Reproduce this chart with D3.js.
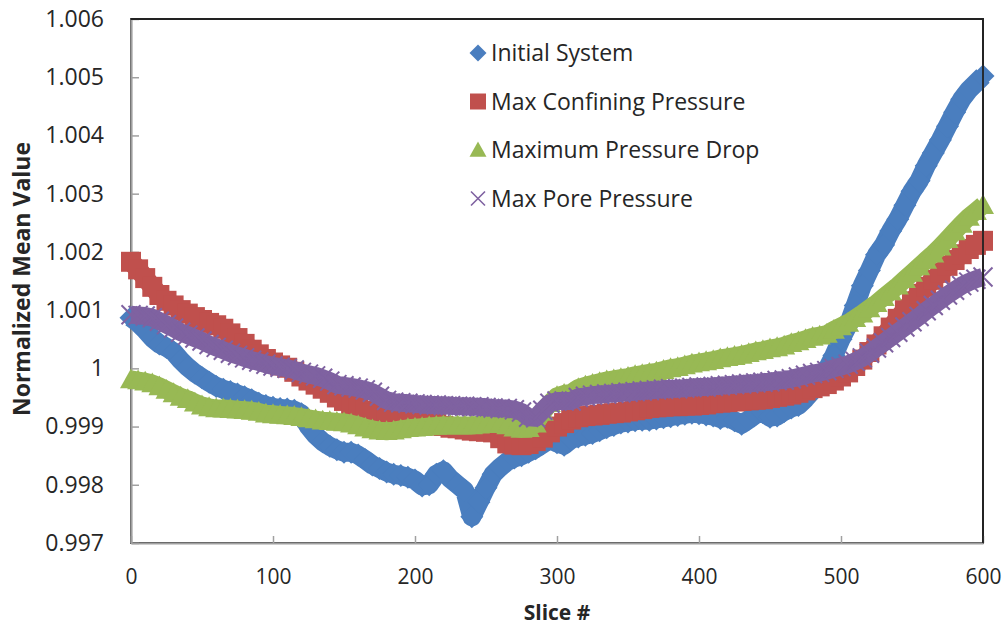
<!DOCTYPE html>
<html>
<head>
  <meta charset="utf-8">
  <title>Normalized Mean Value by Slice</title>
  <script src="https://d3js.org/d3.v7.min.js"></script>
  <style>
    body { margin: 0; background: #fff; }
    svg { font-family: "Open Sans", "Noto Sans", sans-serif; }
  </style>
</head>
<body>
  <div id="chart"></div>

  <script>
    // slice index of each reading (every 5th slice)
    var slices = d3.range(0, 601, 5);

    var initialSystem = [
      1.00087, 1.00078, 1.00066, 1.00052, 1.00042, 1.00036, 1.00028, 1.00014, 1.00002, 0.99992,
      0.99984, 0.99976, 0.99969, 0.99964, 0.99960, 0.99956, 0.99951, 0.99946, 0.99940, 0.99936,
      0.99933, 0.99931, 0.99930, 0.99928, 0.99922, 0.99900, 0.99885, 0.99874, 0.99866, 0.99860,
      0.99856, 0.99856, 0.99851, 0.99843, 0.99834, 0.99828, 0.99822, 0.99818, 0.99816, 0.99813,
      0.99808, 0.99798, 0.99800, 0.99818, 0.99824, 0.99810, 0.99800, 0.99790, 0.99745, 0.99770,
      0.99795, 0.99818, 0.99830, 0.99840, 0.99846, 0.99850, 0.99856, 0.99862, 0.99870, 0.99878,
      0.99872, 0.99868, 0.99878, 0.99882, 0.99885, 0.99888, 0.99893, 0.99898, 0.99902, 0.99906,
      0.99908, 0.99910, 0.99911, 0.99911, 0.99913, 0.99915, 0.99917, 0.99919, 0.99921, 0.99923,
      0.99922, 0.99920, 0.99918, 0.99914, 0.99916, 0.99910, 0.99904, 0.99912, 0.99921, 0.99924,
      0.99916, 0.99918, 0.99926, 0.99932, 0.99936, 0.99948, 0.99962, 0.99978, 0.99998, 1.00022,
      1.00050, 1.00074, 1.00108, 1.00142, 1.00168, 1.00195, 1.00212, 1.00236, 1.00256, 1.00280,
      1.00304, 1.00322, 1.00348, 1.00370, 1.00392, 1.00416, 1.00440, 1.00462, 1.00478, 1.00490,
      1.00502
    ];

    var maxConfining = [
      1.00183, 1.00170, 1.00155, 1.00140, 1.00126, 1.00116, 1.00108, 1.00100, 1.00094, 1.00088,
      1.00083, 1.00078, 1.00074, 1.00068, 1.00060, 1.00052, 1.00042, 1.00032, 1.00024, 1.00016,
      1.00010, 1.00005, 1.00001, 0.99994, 0.99986, 0.99979, 0.99972, 0.99965, 0.99958, 0.99950,
      0.99944, 0.99938, 0.99932, 0.99927, 0.99923, 0.99920, 0.99918, 0.99916, 0.99915, 0.99914,
      0.99912, 0.99911, 0.99909, 0.99905, 0.99901, 0.99898, 0.99897, 0.99895, 0.99893, 0.99892,
      0.99891, 0.99890, 0.99880, 0.99871, 0.99869, 0.99868, 0.99870, 0.99875, 0.99881, 0.99890,
      0.99900, 0.99906, 0.99912, 0.99916, 0.99918, 0.99919, 0.99920, 0.99922, 0.99923, 0.99924,
      0.99926, 0.99928, 0.99930, 0.99932, 0.99933, 0.99934, 0.99935, 0.99935, 0.99936, 0.99936,
      0.99937, 0.99938, 0.99940, 0.99941, 0.99942, 0.99943, 0.99944, 0.99945, 0.99946, 0.99947,
      0.99949, 0.99951, 0.99953, 0.99955, 0.99958, 0.99962, 0.99966, 0.99969, 0.99973, 0.99979,
      0.99986, 0.99993, 1.00004, 1.00015, 1.00028, 1.00041, 1.00055, 1.00070, 1.00085, 1.00100,
      1.00115, 1.00128, 1.00140, 1.00152, 1.00164, 1.00176, 1.00186, 1.00196, 1.00205, 1.00212,
      1.00219
    ];

    var maxPressureDrop = [
      0.99981, 0.99979, 0.99977, 0.99974, 0.99969, 0.99963, 0.99957, 0.99951, 0.99947, 0.99941,
      0.99936, 0.99933, 0.99931, 0.99931, 0.99930, 0.99929, 0.99928, 0.99927, 0.99925, 0.99922,
      0.99921, 0.99920, 0.99919, 0.99918, 0.99916, 0.99914, 0.99912, 0.99910, 0.99909, 0.99908,
      0.99907, 0.99905, 0.99902, 0.99898, 0.99895, 0.99893, 0.99892, 0.99893, 0.99895, 0.99897,
      0.99898, 0.99899, 0.99900, 0.99901, 0.99902, 0.99902, 0.99902, 0.99902, 0.99902, 0.99903,
      0.99905, 0.99905, 0.99904, 0.99902, 0.99898, 0.99896, 0.99897, 0.99905, 0.99925, 0.99940,
      0.99952, 0.99956, 0.99958, 0.99966, 0.99970, 0.99973, 0.99976, 0.99979, 0.99981, 0.99983,
      0.99985, 0.99988, 0.99990, 0.99992, 0.99994, 0.99997, 1.00000, 1.00002, 1.00005, 1.00008,
      1.00010, 1.00012, 1.00014, 1.00017, 1.00019, 1.00021, 1.00023, 1.00026, 1.00029, 1.00031,
      1.00034, 1.00036, 1.00039, 1.00043, 1.00046, 1.00050, 1.00054, 1.00056, 1.00059, 1.00066,
      1.00072, 1.00078, 1.00086, 1.00094, 1.00103, 1.00112, 1.00122, 1.00132, 1.00142, 1.00153,
      1.00164, 1.00175, 1.00186, 1.00197, 1.00209, 1.00222, 1.00235, 1.00248, 1.00260, 1.00270,
      1.00280
    ];

    var maxPore = [
      1.00092, 1.00091, 1.00090, 1.00087, 1.00081, 1.00075, 1.00069, 1.00062, 1.00057, 1.00052,
      1.00047, 1.00041, 1.00036, 1.00031, 1.00026, 1.00022, 1.00018, 1.00014, 1.00011, 1.00007,
      1.00004, 1.00002, 1.00000, 0.99997, 0.99993, 0.99990, 0.99987, 0.99983, 0.99978, 0.99972,
      0.99970, 0.99968, 0.99966, 0.99963, 0.99959, 0.99952, 0.99945, 0.99942, 0.99941, 0.99940,
      0.99939, 0.99938, 0.99937, 0.99937, 0.99936, 0.99936, 0.99935, 0.99935, 0.99934, 0.99934,
      0.99933, 0.99932, 0.99931, 0.99931, 0.99929, 0.99925, 0.99916, 0.99915, 0.99928, 0.99940,
      0.99944, 0.99944, 0.99944, 0.99950, 0.99952, 0.99954, 0.99955, 0.99956, 0.99957, 0.99958,
      0.99959, 0.99960, 0.99961, 0.99962, 0.99963, 0.99964, 0.99965, 0.99965, 0.99966, 0.99967,
      0.99968, 0.99968, 0.99969, 0.99970, 0.99971, 0.99972, 0.99973, 0.99974, 0.99975, 0.99976,
      0.99977, 0.99979, 0.99980, 0.99982, 0.99985, 0.99988, 0.99991, 0.99993, 0.99996, 1.00000,
      1.00003, 1.00007, 1.00012, 1.00018, 1.00026, 1.00035, 1.00044, 1.00053, 1.00062, 1.00071,
      1.00080, 1.00089, 1.00099, 1.00108, 1.00117, 1.00126, 1.00134, 1.00142, 1.00148, 1.00153,
      1.00157
    ];

    var seriesNames = ['Initial System', 'Max Confining Pressure', 'Maximum Pressure Drop', 'Max Pore Pressure'];
    var seriesColors = ['#4a7ebf', '#c0504d', '#98b954', '#7f62a1'];
    var seriesShapes = ['diamond', 'square', 'triangle', 'cross'];

    var xTicks = [0, 100, 200, 300, 400, 500, 600];
    var yTicks = [0.997, 0.998, 0.999, 1, 1.001, 1.002, 1.003, 1.004, 1.005, 1.006];
    var yTickLabels = ['0.997', '0.998', '0.999', '1', '1.001', '1.002', '1.003', '1.004', '1.005', '1.006'];

    var allValues = [initialSystem, maxConfining, maxPressureDrop, maxPore];

    var W = 1005, H = 626;
    var margin = { top: 19, right: 22, bottom: 83, left: 131 };
    var width = W - margin.left - margin.right;
    var height = H - margin.top - margin.bottom;

    var svg = d3.select('#chart').append('svg')
      .attr('width', W)
      .attr('height', H);

    var g = svg.append('g')
      .attr('transform', 'translate(' + margin.left + ',' + margin.top + ')');

    var x = d3.scaleLinear().domain([0, 600]).range([0, width]);
    var y = d3.scaleLinear().domain([0.997, 1.006]).range([height, 0]);

    // marker path builders, s = full width in px
    function markerPath(shape, s) {
      var h = s / 2;
      if (shape === 'diamond') return 'M0,' + (-h) + 'L' + h + ',0L0,' + h + 'L' + (-h) + ',0Z';
      if (shape === 'square') return 'M' + (-h) + ',' + (-h) + 'H' + h + 'V' + h + 'H' + (-h) + 'Z';
      if (shape === 'triangle') return 'M0,' + (-h) + 'L' + h + ',' + (h * 0.8) + 'L' + (-h) + ',' + (h * 0.8) + 'Z';
      return 'M' + (-h) + ',' + (-h) + 'L' + h + ',' + h + 'M' + h + ',' + (-h) + 'L' + (-h) + ',' + h;
    }
    var markerSize = [23, 20, 22, 19];
    var bandWidth = [19, 19, 18, 18];

    // plot frame
    g.append('rect')
      .attr('x', 0).attr('y', 0)
      .attr('width', width).attr('height', height)
      .attr('fill', 'none')
      .attr('stroke', '#222')
      .attr('stroke-width', 1.8);

    // axes
    var xAxis = g.append('g')
      .attr('transform', 'translate(0,' + height + ')')
      .call(d3.axisBottom(x).tickValues(xTicks).tickSize(-7).tickSizeOuter(0).tickPadding(26));

    var yAxis = g.append('g')
      .call(d3.axisLeft(y).tickValues(yTicks).tickSize(-8).tickSizeOuter(0).tickPadding(27)
        .tickFormat(function(d, i) { return yTickLabels[i]; }));

    [xAxis, yAxis].forEach(function(ax) {
      ax.select('.domain').attr('stroke', '#a0a0a0').attr('stroke-width', 2.2);
      ax.selectAll('.tick line').attr('stroke', '#a0a0a0').attr('stroke-width', 1.5);
      ax.selectAll('.tick text').attr('fill', '#262626').style('font-family', '"Open Sans", sans-serif');
    });
    xAxis.selectAll('.tick text').style('font-size', '21px');
    yAxis.selectAll('.tick text').style('font-size', '23px');

    // series: a band under the markers, then the markers
    var line = d3.line()
      .x(function(d, i) { return x(slices[i]); })
      .y(function(d) { return y(d); });

    allValues.forEach(function(vals, k) {
      var sg = g.append('g').attr('class', 'series');
      sg.append('path')
        .datum(vals)
        .attr('d', line)
        .attr('fill', 'none')
        .attr('stroke', seriesColors[k])
        .attr('stroke-width', bandWidth[k])
        .attr('stroke-linejoin', 'round');

      var m = sg.selectAll('.pt')
        .data(vals)
        .enter()
        .append('path')
        .attr('class', 'pt')
        .attr('transform', function(d, i) { return 'translate(' + x(slices[i]) + ',' + y(d) + ')'; })
        .attr('d', markerPath(seriesShapes[k], markerSize[k]));

      if (seriesShapes[k] === 'cross') {
        m.attr('fill', 'none').attr('stroke', seriesColors[k]).attr('stroke-width', 2);
      } else {
        m.attr('fill', seriesColors[k]);
      }
    });

    // right and top border stay visible above the markers
    g.append('path')
      .attr('d', 'M0,0H' + width + 'V' + height)
      .attr('fill', 'none')
      .attr('stroke', '#222')
      .attr('stroke-width', 1.8);

    // legend
    var legend = g.append('g')
      .attr('transform', 'translate(' + (478 - margin.left) + ',' + (53 - margin.top) + ')');

    seriesNames.forEach(function(name, k) {
      var row = legend.append('g').attr('transform', 'translate(0,' + (k * 48.5) + ')');
      var mk = row.append('path').attr('d', markerPath(seriesShapes[k], [17, 16, 17, 14][k]));
      if (seriesShapes[k] === 'cross') {
        mk.attr('fill', 'none').attr('stroke', seriesColors[k]).attr('stroke-width', 1.6);
      } else {
        mk.attr('fill', seriesColors[k]);
      }
      row.append('text')
        .attr('x', 13)
        .attr('dy', '0.35em')
        .attr('fill', '#262626')
        .style('font-size', '23px')
        .text(name);
    });

    // axis titles
    svg.append('text')
      .attr('x', margin.left + width / 2)
      .attr('y', 613)
      .attr('dy', '0.35em')
      .attr('text-anchor', 'middle')
      .attr('fill', '#262626')
      .style('font-size', '21px')
      .style('font-weight', 'bold')
      .text('Slice #');

    svg.append('text')
      .attr('transform', 'translate(22,' + (margin.top + height / 2 - 2) + ') rotate(-90)')
      .attr('dy', '0.35em')
      .attr('text-anchor', 'middle')
      .attr('fill', '#262626')
      .style('font-size', '23px')
      .style('font-weight', 'bold')
      .text('Normalized Mean Value');
  </script>
</body>
</html>
